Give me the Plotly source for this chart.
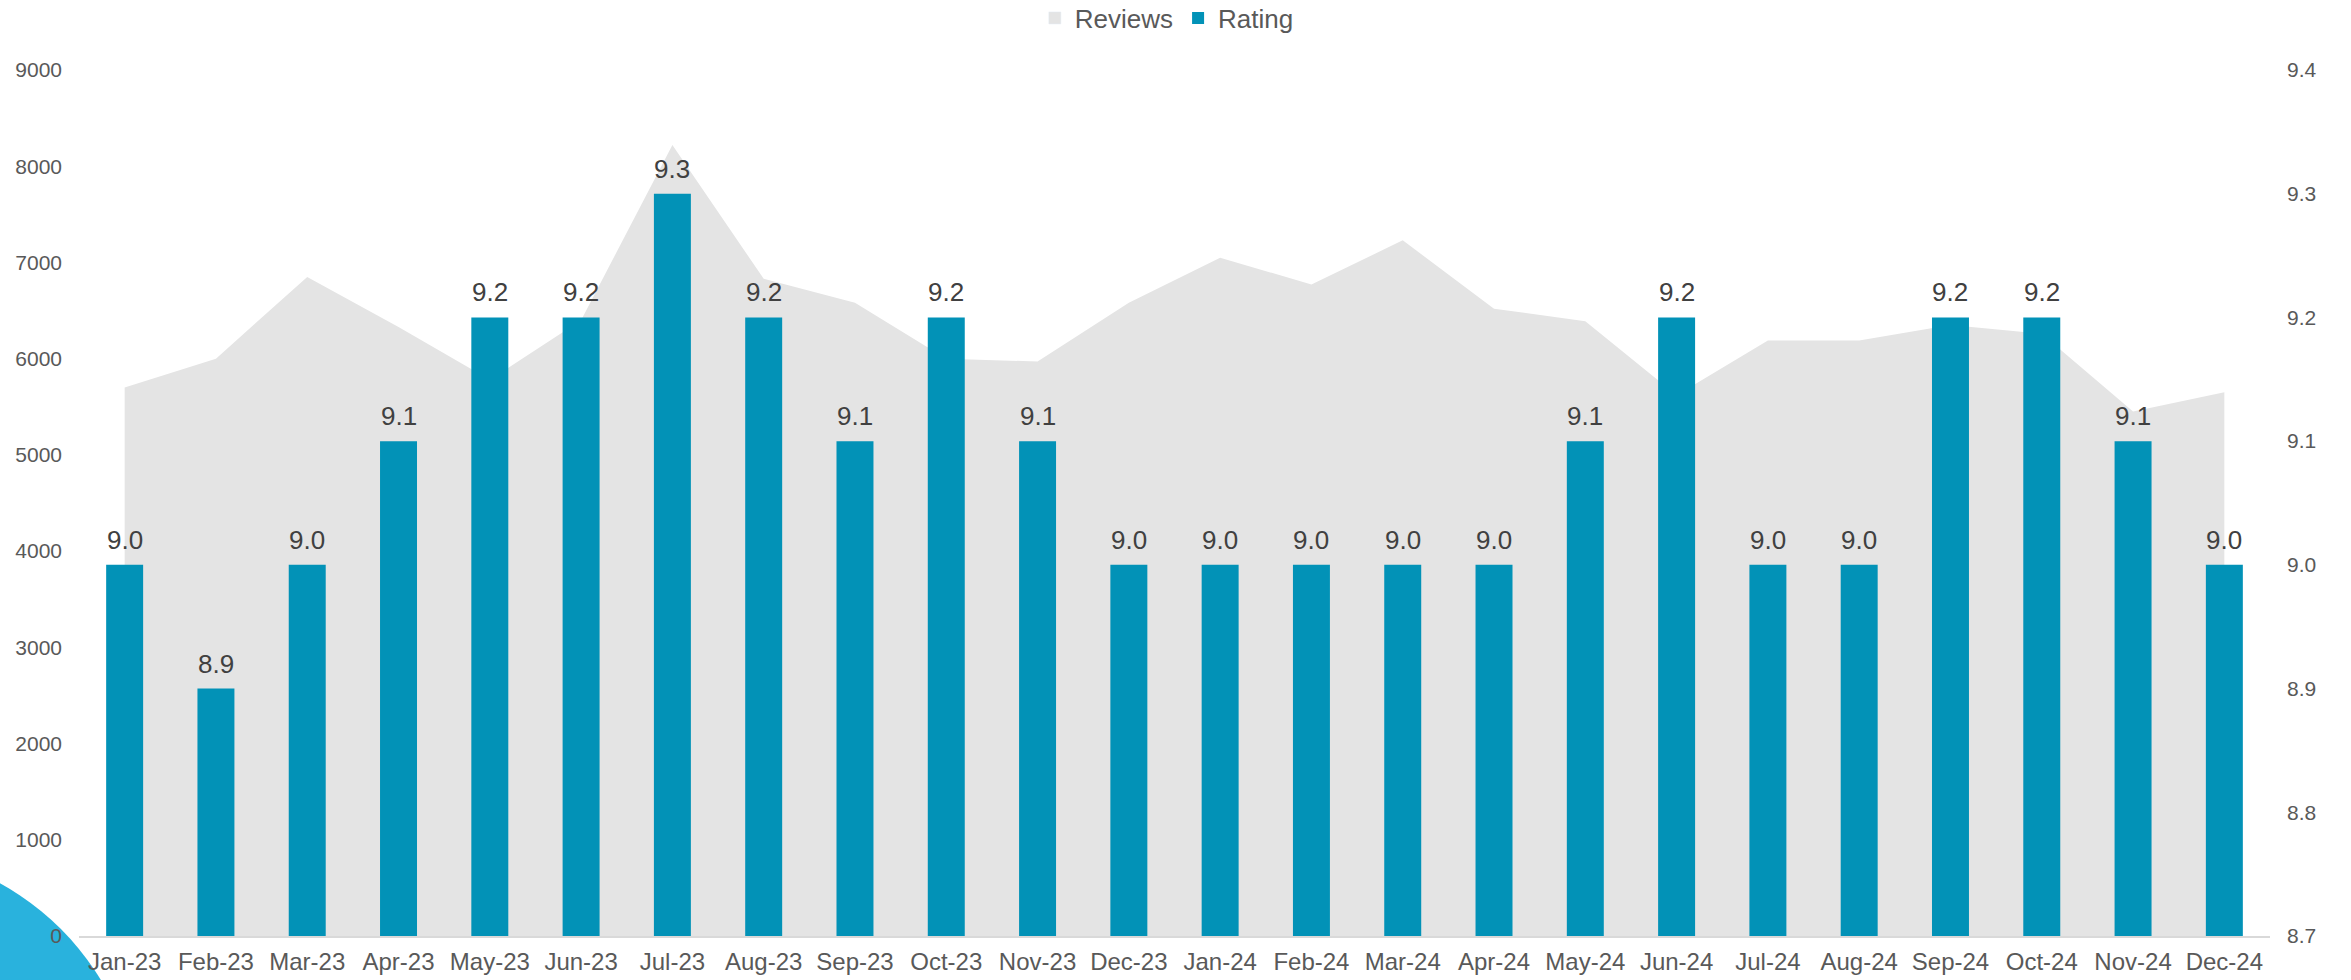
import plotly.graph_objects as go

months = ["Jan-23", "Feb-23", "Mar-23", "Apr-23", "May-23", "Jun-23", "Jul-23", "Aug-23",
          "Sep-23", "Oct-23", "Nov-23", "Dec-23", "Jan-24", "Feb-24", "Mar-24", "Apr-24",
          "May-24", "Jun-24", "Jul-24", "Aug-24", "Sep-24", "Oct-24", "Nov-24", "Dec-24"]
reviews = [5700, 6000, 6850, 6330, 5780, 6400, 8220, 6830, 6580, 6000, 5970, 6580,
           7050, 6770, 7230, 6520, 6390, 5620, 6190, 6190, 6350, 6260, 5450, 5650]
rating = [9.0, 8.9, 9.0, 9.1, 9.2, 9.2, 9.3, 9.2, 9.1, 9.2, 9.1, 9.0,
          9.0, 9.0, 9.0, 9.0, 9.1, 9.2, 9.0, 9.0, 9.2, 9.2, 9.1, 9.0]
left_ticks = [0, 1000, 2000, 3000, 4000, 5000, 6000, 7000, 8000, 9000]
right_ticks = [8.7, 8.8, 8.9, 9.0, 9.1, 9.2, 9.3, 9.4]

AREA = "#E4E4E4"
BAR = "#0292B7"
FONT = "Liberation Sans, Arial, sans-serif"

fig = go.Figure()
# area (legend square provided by a bar-style entry)
fig.add_trace(go.Scatter(x=months, y=reviews, mode="none", fill="tozeroy",
                         fillcolor=AREA, showlegend=False, hoverinfo="x+y", yaxis="y"))
fig.add_trace(go.Bar(x=[months[0]], y=[None], name="Reviews", marker_color=AREA,
                     yaxis="y", showlegend=True))
fig.add_trace(go.Bar(x=months, y=rating, name="Rating", marker_color=BAR,
                     marker_line_width=0, yaxis="y2"))

for m, r in zip(months, rating):
    fig.add_annotation(x=m, y=r, xref="x", yref="y2", text=f"{r:.1f}", showarrow=False,
                       yanchor="bottom", yshift=8,
                       font=dict(family=FONT, size=26, color="#404040"))

L, R, T, B = 79, 81, 70, 44
W, H = 2351, 980
pw, ph = W - L - R, H - T - B
cx, cy, rad = -130, 1120, 270
fig.add_shape(type="circle", xref="paper", yref="paper",
              x0=(cx - rad - L) / pw, x1=(cx + rad - L) / pw,
              y0=(H - B - (cy + rad)) / ph, y1=(H - B - (cy - rad)) / ph,
              fillcolor="#29B2DD", line_width=0, layer="below")

fig.update_layout(
    width=W, height=H,
    margin=dict(l=L, r=R, t=T, b=B, pad=0, autoexpand=False),
    plot_bgcolor="white", paper_bgcolor="white",
    barmode="overlay", bargap=0.595,
    font=dict(family=FONT, color="#595959"),
    showlegend=True,
    legend=dict(orientation="h", x=0.4965, xanchor="center", y=(H - B - 18) / ph,
                yanchor="middle", font=dict(size=26, color="#595959"),
                traceorder="normal", bgcolor="rgba(0,0,0,0)"),
    xaxis=dict(type="category", categoryorder="array", categoryarray=months,
               showgrid=False, showline=True, linecolor="#D9D9D9", linewidth=2,
               ticks="", tickfont=dict(size=24, color="#595959"), ticklabelstandoff=3,
               zeroline=False),
    yaxis=dict(range=[0, 9000], tickvals=left_ticks, showgrid=False, zeroline=False,
               showline=False, ticks="", tickfont=dict(size=21, color="#595959"),
               ticklabelstandoff=16),
    yaxis2=dict(range=[8.7, 9.4], tickvals=right_ticks, tickformat=".1f", overlaying="y",
                side="right", showgrid=False, zeroline=False, showline=False, ticks="",
                tickfont=dict(size=21, color="#595959"), ticklabelstandoff=16),
)

fig.write_html("out.html")
